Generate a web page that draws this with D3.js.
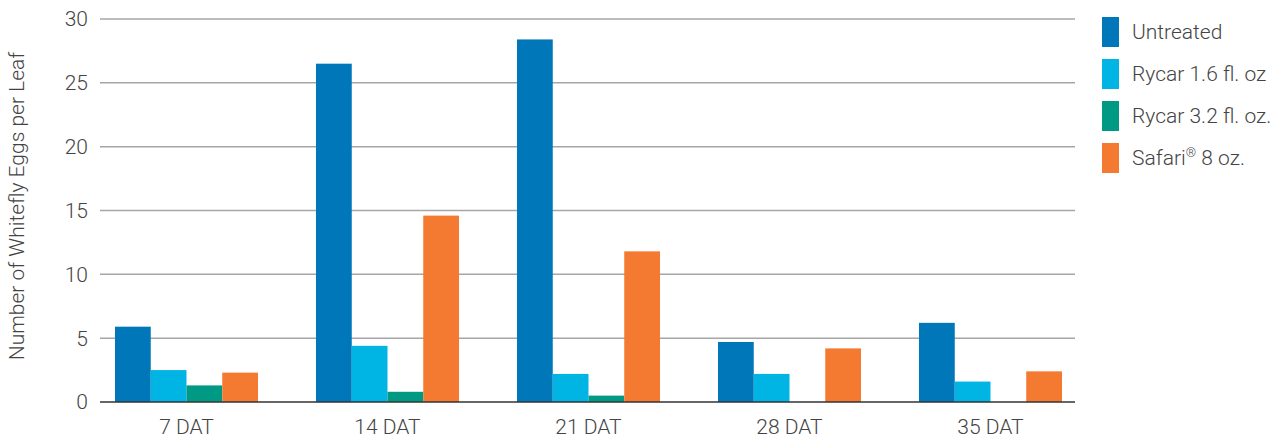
<!DOCTYPE html>
<html>
<head>
<meta charset="utf-8">
<script src="https://cdn.jsdelivr.net/npm/d3@7"></script>
<style>
  body { margin: 0; background: #fff; }
  text { font-family: Roboto, "Noto Sans", sans-serif; font-weight: 300; fill: #444; }
</style>
</head>
<body>
<div id="chart"></div>
<script>
const categories = ['7 DAT', '14 DAT', '21 DAT', '28 DAT', '35 DAT'];
const seriesNames = ['Untreated', 'Rycar 1.6 fl. oz', 'Rycar 3.2 fl. oz.', 'Safari|® 8 oz.'];
const untreated = [5.9, 26.5, 28.4, 4.7, 6.2];
const rycar16 = [2.5, 4.4, 2.2, 2.2, 1.6];
const rycar32 = [1.3, 0.8, 0.5, 0, 0];
const safari = [2.3, 14.6, 11.8, 4.2, 2.4];
const yTicks = [0, 5, 10, 15, 20, 25, 30];
const colors = ['#0077b9', '#00b4e4', '#009a84', '#f47a32'];

const series = [untreated, rycar16, rycar32, safari];
const width = 1275, height = 438;

const svg = d3.select('#chart').append('svg')
  .attr('width', width)
  .attr('height', height);

const x = d3.scaleBand().domain(categories).range([86, 1091]);
const groupW = 143;
const xs = d3.scaleBand().domain(d3.range(series.length)).range([0, groupW]);
const y = d3.scaleLinear().domain([0, 30]).range([402, 19]);

// grid
svg.append('g')
  .selectAll('line')
  .data(yTicks.filter(d => d > 0))
  .join('line')
  .attr('x1', 100).attr('x2', 1075)
  .attr('y1', d => y(d)).attr('y2', d => y(d))
  .attr('stroke', '#a6a6a6')
  .attr('stroke-width', 1.5);

// y labels
svg.append('g')
  .selectAll('text')
  .data(yTicks)
  .join('text')
  .attr('x', 88)
  .attr('y', d => y(d))
  .attr('dy', '0.35em')
  .attr('text-anchor', 'end')
  .style('font-size', '21px')
  .text(d => d);

// bars
const groups = svg.append('g')
  .selectAll('g')
  .data(categories)
  .join('g')
  .attr('transform', c => `translate(${x(c) + (x.bandwidth() - groupW) / 2},0)`);

groups.selectAll('rect')
  .data((c, i) => series.map((s, k) => ({k, v: s[i]})))
  .join('rect')
  .attr('x', d => xs(d.k))
  .attr('width', xs.bandwidth())
  .attr('y', d => y(d.v))
  .attr('height', d => y(0) - y(d.v))
  .attr('fill', d => colors[d.k]);

// baseline
svg.append('line')
  .attr('x1', 100).attr('x2', 1075)
  .attr('y1', y(0)).attr('y2', y(0))
  .attr('stroke', '#333')
  .attr('stroke-width', 1.5);

// x labels
svg.append('g')
  .selectAll('text')
  .data(categories)
  .join('text')
  .attr('x', c => x(c) + x.bandwidth() / 2)
  .attr('y', 434)
  .attr('text-anchor', 'middle')
  .style('font-size', '21px')
  .text(c => c);

// y title
svg.append('text')
  .attr('transform', 'translate(24,206) rotate(-90)')
  .attr('text-anchor', 'middle')
  .style('font-size', '21px')
  .text('Number of Whitefly Eggs per Leaf');

// legend
const legend = svg.append('g')
  .selectAll('g')
  .data(seriesNames)
  .join('g')
  .attr('transform', (d, i) => `translate(1102,${17 + i * 42})`);

legend.append('rect')
  .attr('width', 17).attr('height', 30)
  .attr('fill', (d, i) => colors[i]);

const lt = legend.append('text')
  .attr('x', 30)
  .attr('y', 22);

lt.each(function(d) {
  const parts = d.split('|');
  const t = d3.select(this);
  t.append('tspan').style('font-size', '21px').text(parts[0]);
  if (parts[1]) {
    t.append('tspan').attr('y', 14).style('font-size', '13px').text(parts[1][0]);
    t.append('tspan').attr('y', 22).style('font-size', '21px').text(parts[1].slice(1));
  }
});
</script>
</body>
</html>
